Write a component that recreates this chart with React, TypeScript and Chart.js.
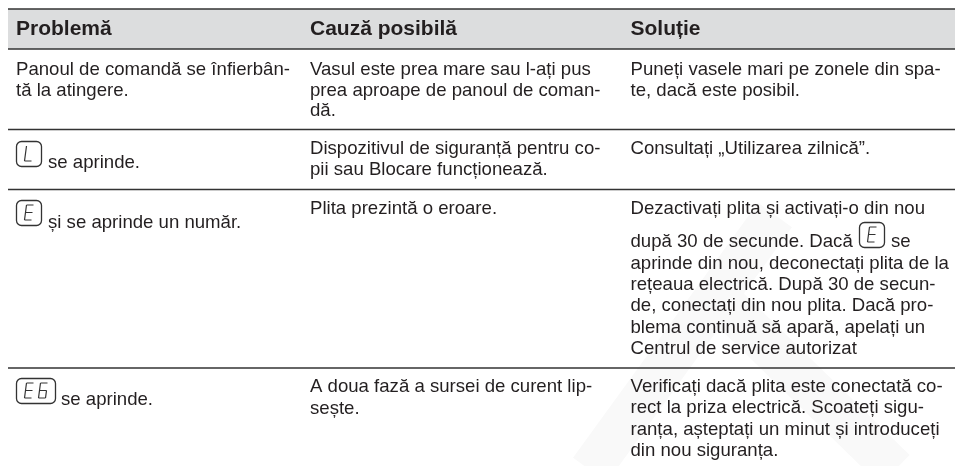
import React, { useEffect, useRef } from "react";
import { Chart, registerables } from "chart.js";

Chart.register(...registerables);

const ruleYs = [9, 49, 129.5, 189.5, 368];
const headerBand = { top: 9, bottom: 49 };
const tableLeft = 8;
const tableRight = 955;
const columnX = [16, 310, 630.5];
const headers = ["Problemă", "Cauză posibilă", "Soluție"];
const headerBaseline = 34.5;
const watermarkRising = [{ x: 590, y: 470 }, { x: 775, y: 215 }];
const watermarkFalling = [{ x: 705, y: 285 }, { x: 895, y: 470 }];

type Cell = { col: number; y: number; text: string; xOffset?: number };

const bodyCells: Cell[] = [
  { col: 0, y: 74.5, text: "Panoul de comandă se înfierbân-" },
  { col: 0, y: 95.5, text: "tă la atingere." },
  { col: 1, y: 74.5, text: "Vasul este prea mare sau l-ați pus" },
  { col: 1, y: 95.5, text: "prea aproape de panoul de coman-" },
  { col: 1, y: 116, text: "dă." },
  { col: 2, y: 74.5, text: "Puneți vasele mari pe zonele din spa-" },
  { col: 2, y: 95.5, text: "te, dacă este posibil." },
  { col: 0, y: 167.5, text: "se aprinde.", xOffset: 32 },
  { col: 1, y: 154, text: "Dispozitivul de siguranță pentru co-" },
  { col: 1, y: 175, text: "pii sau Blocare funcționează." },
  { col: 2, y: 154, text: "Consultați „Utilizarea zilnică”." },
  { col: 0, y: 228, text: "și se aprinde un număr.", xOffset: 32 },
  { col: 1, y: 213.5, text: "Plita prezintă o eroare." },
  { col: 2, y: 213.5, text: "Dezactivați plita și activați-o din nou" },
  { col: 2, y: 247, text: "după 30 de secunde. Dacă" },
  { col: 2, y: 247, text: "se", xOffset: 260.5 },
  { col: 2, y: 268.5, text: "aprinde din nou, deconectați plita de la" },
  { col: 2, y: 290, text: "rețeaua electrică. După 30 de secun-" },
  { col: 2, y: 311, text: "de, conectați din nou plita. Dacă pro-" },
  { col: 2, y: 332.5, text: "blema continuă să apară, apelați un" },
  { col: 2, y: 354, text: "Centrul de service autorizat" },
  { col: 0, y: 405, text: "se aprinde.", xOffset: 45 },
  { col: 1, y: 391.5, text: "A doua fază a sursei de curent lip-" },
  { col: 1, y: 413.5, text: "sește." },
  { col: 2, y: 391.5, text: "Verificați dacă plita este conectată co-" },
  { col: 2, y: 413, text: "rect la priza electrică. Scoateți sigu-" },
  { col: 2, y: 434.5, text: "ranța, așteptați un minut și introduceți" },
  { col: 2, y: 456, text: "din nou siguranța." },
];

const iconBoxes = [
  { x: 16, y: 141, w: 26, h: 26, label: "L" },
  { x: 16, y: 200, w: 26, h: 26, label: "E" },
  { x: 16, y: 378, w: 40, h: 26, label: "E6" },
  { x: 859, y: 222, w: 26, h: 26, label: "E" },
];

const SEGMENTS: Record<string, number[][]> = {
  L: [[2, 0, 1, 7.5], [1, 7.5, 0, 15], [0, 15, 7, 15]],
  E: [[2, 0, 9, 0], [2, 0, 1, 7.5], [1, 7.5, 8, 7.5], [1, 7.5, 0, 15], [0, 15, 7, 15]],
  "6": [[2, 0, 9, 0], [2, 0, 1, 7.5], [1, 7.5, 8, 7.5], [1, 7.5, 0, 15], [0, 15, 7, 15], [8, 7.5, 7, 15]],
};

const FONT = '"Liberation Sans", Arial, sans-serif';
const INK = "#231f20";

const tablePlugin = {
  id: "tableText",
  afterDatasetsDraw(chart: any) {
    const { ctx, scales } = chart;
    const X = (v: number) => scales.x.getPixelForValue(v);
    const Y = (v: number) => scales.y.getPixelForValue(v);
    ctx.save();
    ctx.textBaseline = "alphabetic";
    ctx.textAlign = "left";
    ctx.fillStyle = INK;
    ctx.font = `bold 21px ${FONT}`;
    headers.forEach((h, i) => ctx.fillText(h, X(columnX[i]), Y(headerBaseline)));
    ctx.font = `18.6px ${FONT}`;
    bodyCells.forEach((c) => ctx.fillText(c.text, X(columnX[c.col] + (c.xOffset ?? 0)), Y(c.y)));

    iconBoxes.forEach((b) => {
      ctx.strokeStyle = "#333333";
      ctx.lineWidth = 1.3;
      ctx.beginPath();
      ctx.roundRect(X(b.x) + 0.5, Y(b.y) + 0.5, b.w - 1, b.h - 1, 5);
      ctx.stroke();
      ctx.lineWidth = 1.2;
      const glyphs = b.label.split("");
      const gw = 14;
      let gx = X(b.x) + (b.w - glyphs.length * gw + 5) / 2;
      const gy = Y(b.y) + 5;
      glyphs.forEach((g) => {
        ctx.beginPath();
        SEGMENTS[g].forEach(([a, bb, c, d]) => {
          ctx.moveTo(gx + a, gy + bb);
          ctx.lineTo(gx + c, gy + d);
        });
        ctx.stroke();
        gx += gw;
      });
    });
    ctx.restore();
  },
};

export default function App() {
  const ref = useRef<HTMLCanvasElement>(null);
  useEffect(() => {
    const chart = new Chart(ref.current!, {
      type: "line",
      plugins: [tablePlugin],
      data: {
        datasets: [
          ...[watermarkRising, watermarkFalling].map((points) => ({
            data: points,
            borderColor: "#f9f9f9",
            borderWidth: 42,
            borderCapStyle: "butt",
            pointRadius: 0,
            fill: false,
            order: 3,
          })),
          {
            data: [
              { x: tableLeft, y: headerBand.top },
              { x: tableRight, y: headerBand.top },
            ],
            backgroundColor: "#dcddde",
            borderWidth: 0,
            pointRadius: 0,
            fill: { value: headerBand.bottom },
            order: 2,
          },
          ...ruleYs.map((y) => ({
            data: [
              { x: tableLeft, y },
              { x: tableRight, y },
            ],
            borderColor: "#333333",
            borderWidth: 1.4,
            pointRadius: 0,
            fill: false,
            order: 1,
          })),
        ],
      } as any,
      options: {
        responsive: false,
        animation: false,
        layout: { padding: 0 },
        plugins: { legend: { display: false }, tooltip: { enabled: false } },
        scales: {
          x: { type: "linear", min: 0, max: 955, display: false },
          y: { type: "linear", min: 0, max: 466, reverse: true, display: false },
        },
      },
    });
    return () => chart.destroy();
  }, []);
  return (
    <div style={{ position: "absolute", left: 0, top: 0, width: 955, height: 466, background: "#fff" }}>
      <canvas ref={ref} width={955} height={466} style={{ display: "block", filter: "blur(0.35px)" }} />
    </div>
  );
}
